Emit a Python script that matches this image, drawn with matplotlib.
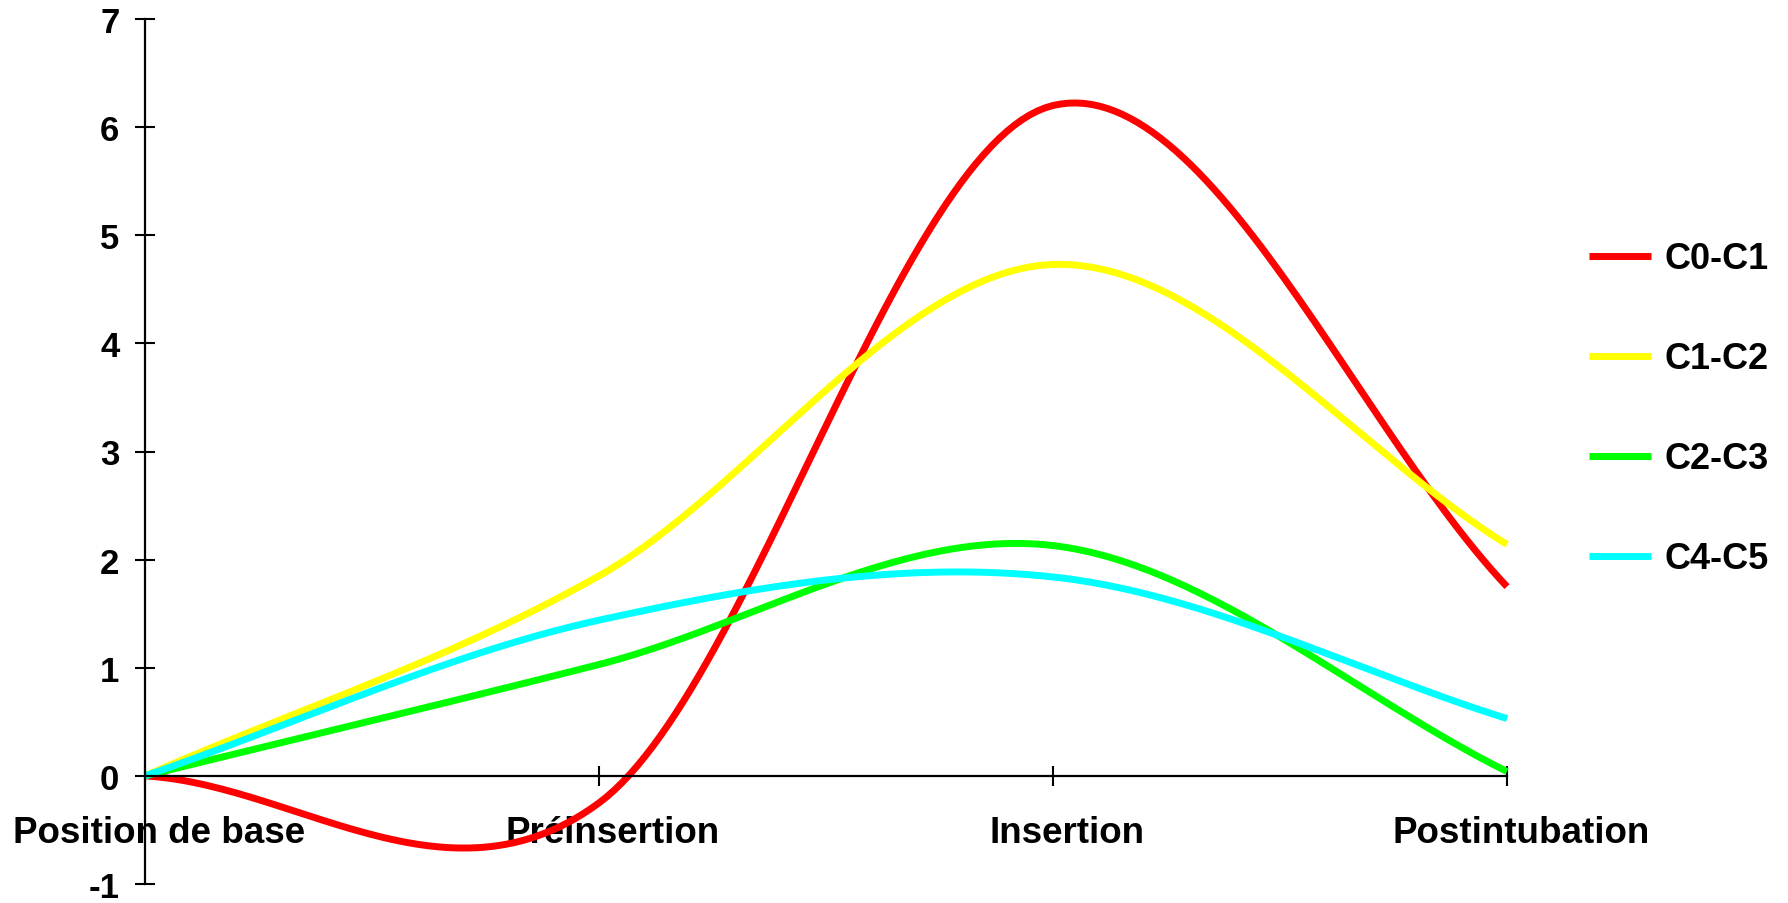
import numpy as np
import matplotlib
matplotlib.use("Agg")
import matplotlib.pyplot as plt
import matplotlib.transforms as mtransforms

categories = ["Position de base", "Préinsertion", "Insertion", "Postintubation"]
c0_c1 = [0.0, -0.25, 6.2, 1.75]
c1_c2 = [0.0, 1.85, 4.73, 2.14]
c2_c3 = [0.0, 1.03, 2.13, 0.04]
c4_c5 = [0.0, 1.44, 1.84, 0.53]
series_names = ["C0-C1", "C1-C2", "C2-C3", "C4-C5"]
series_colors = ["#FF0000", "#FFFF00", "#00FF00", "#00FFFF"]
y_ticks = [-1, 0, 1, 2, 3, 4, 5, 6, 7]


def smooth(xs, ys, n=60):
    """Excel-like smoothed line: cubic Bezier with Catmull-Rom control points,
    reflected phantom points at the ends."""
    P = np.column_stack([xs, ys]).astype(float)
    ext = np.vstack([2 * P[0] - P[1], P, 2 * P[-1] - P[-2]])
    out = []
    t = np.linspace(0, 1, n)[:, None]
    for i in range(len(P) - 1):
        p0, p3 = P[i], P[i + 1]
        c1 = p0 + (ext[i + 2] - ext[i]) / 6.0
        c2 = p3 - (ext[i + 3] - ext[i + 1]) / 6.0
        seg = ((1 - t) ** 3) * p0 + 3 * ((1 - t) ** 2) * t * c1 + 3 * (1 - t) * t ** 2 * c2 + t ** 3 * p3
        out.append(seg if i == 0 else seg[1:])
    s = np.vstack(out)
    return s[:, 0], s[:, 1]


plt.rcParams["font.family"] = ["Liberation Sans", "DejaVu Sans"]
plt.rcParams["font.weight"] = "bold"

fig = plt.figure(figsize=(17.88, 9.04), dpi=100)
ax = fig.add_axes([145 / 1788, 1 - 885 / 904, (1507 - 145) / 1788, (885 - 20) / 904])

x = np.arange(len(categories))
handles = []
for vals, name, col in zip([c0_c1, c1_c2, c2_c3, c4_c5], series_names, series_colors):
    sx, sy = smooth(x, vals)
    h, = ax.plot(sx, sy, color=col, lw=5, label=name, clip_on=False, solid_capstyle="butt")
    handles.append(h)

ax.set_xlim(0, 3)
ax.set_ylim(-1, 7)
ax.set_yticks(y_ticks)
ax.set_yticklabels([str(v) for v in y_ticks])
ax.set_xticks(x)
ax.set_xticklabels(categories)

for s in ["top", "right"]:
    ax.spines[s].set_visible(False)
ax.spines["bottom"].set_position(("data", 0))
ax.spines["left"].set_linewidth(1.6)
ax.spines["bottom"].set_linewidth(1.6)
ax.tick_params(axis="y", direction="inout", length=15, width=1.5, pad=11, labelsize=25)
ax.tick_params(axis="x", direction="inout", length=15, width=1.5, pad=21, labelsize=26.5)

offset = mtransforms.ScaledTranslation(14 / 100, 0, fig.dpi_scale_trans)
for lab in ax.get_xticklabels():
    lab.set_fontweight("bold")
    lab.set_transform(lab.get_transform() + offset)
for lab in ax.get_yticklabels():
    lab.set_fontweight("bold")

leg = fig.legend(handles=handles, loc="center left",
                 bbox_to_anchor=(1589 / 1788, 1 - 410 / 904),
                 frameon=False, fontsize=26, handlelength=1.72,
                 handletextpad=0.36, labelspacing=1.8, borderpad=0, borderaxespad=0)
for t in leg.get_texts():
    t.set_fontweight("bold")
for l in leg.get_lines():
    l.set_linewidth(5)

fig.savefig("out.png", dpi=100)
